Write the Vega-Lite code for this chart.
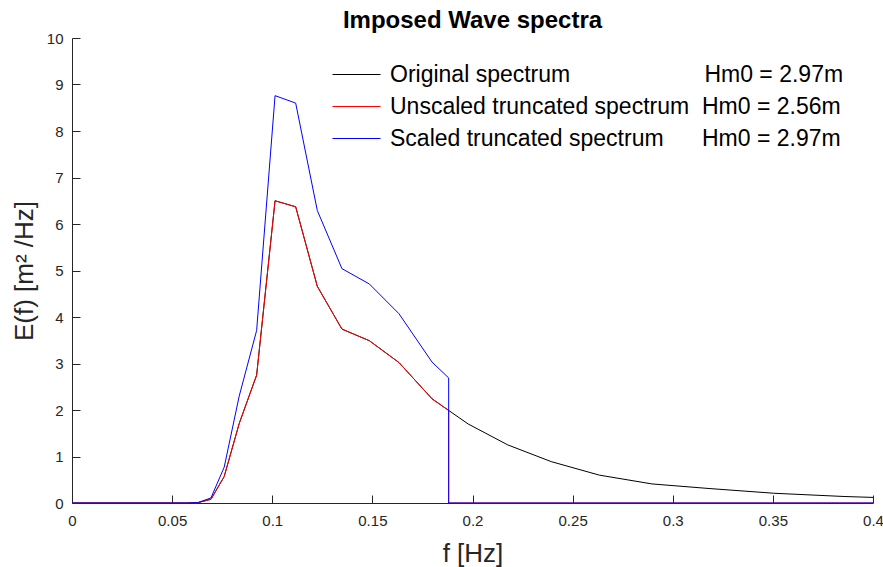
{
  "$schema": "https://vega.github.io/schema/vega-lite/v6.json",
  "width": 801,
  "height": 465,
  "autosize": {"type": "none"},
  "padding": {"left": 72, "top": 38, "right": 10, "bottom": 64},
  "background": "white",
  "title": {"text": "Imposed Wave spectra", "fontSize": 24, "fontWeight": "bold", "font": "Liberation Sans", "color": "#000000", "anchor": "middle", "offset": -2},
  "config": {
    "view": {"stroke": null},
    "font": "Liberation Sans",
    "axis": {"grid": false, "domainColor": "#262626", "tickColor": "#262626", "labelColor": "#262626", "titleColor": "#262626", "labelFont": "Liberation Sans", "titleFont": "Liberation Sans", "labelFontSize": 15, "titleFontSize": 26, "titleFontWeight": "normal", "domainWidth": 1, "tickWidth": 1, "labelFlush": false}
  },
  "data": {"values": [
    {"series": "Original spectrum", "i": 0, "f": 0, "E": 0},
    {"series": "Original spectrum", "i": 1, "f": 0.0573, "E": 0},
    {"series": "Original spectrum", "i": 2, "f": 0.063, "E": 0.01},
    {"series": "Original spectrum", "i": 3, "f": 0.0694, "E": 0.08},
    {"series": "Original spectrum", "i": 4, "f": 0.076, "E": 0.57},
    {"series": "Original spectrum", "i": 5, "f": 0.0835, "E": 1.71},
    {"series": "Original spectrum", "i": 6, "f": 0.0922, "E": 2.75},
    {"series": "Original spectrum", "i": 7, "f": 0.1014, "E": 6.5},
    {"series": "Original spectrum", "i": 8, "f": 0.1117, "E": 6.37},
    {"series": "Original spectrum", "i": 9, "f": 0.1225, "E": 4.66},
    {"series": "Original spectrum", "i": 10, "f": 0.1348, "E": 3.74},
    {"series": "Original spectrum", "i": 11, "f": 0.1485, "E": 3.49},
    {"series": "Original spectrum", "i": 12, "f": 0.1633, "E": 3.02},
    {"series": "Original spectrum", "i": 13, "f": 0.1798, "E": 2.24},
    {"series": "Original spectrum", "i": 14, "f": 0.1978, "E": 1.7},
    {"series": "Original spectrum", "i": 15, "f": 0.2176, "E": 1.25},
    {"series": "Original spectrum", "i": 16, "f": 0.2393, "E": 0.89},
    {"series": "Original spectrum", "i": 17, "f": 0.2633, "E": 0.6},
    {"series": "Original spectrum", "i": 18, "f": 0.2896, "E": 0.41},
    {"series": "Original spectrum", "i": 19, "f": 0.3186, "E": 0.31},
    {"series": "Original spectrum", "i": 20, "f": 0.3504, "E": 0.21},
    {"series": "Original spectrum", "i": 21, "f": 0.3855, "E": 0.14},
    {"series": "Original spectrum", "i": 22, "f": 0.4, "E": 0.12},
    {"series": "Unscaled truncated spectrum", "i": 0, "f": 0, "E": 0},
    {"series": "Unscaled truncated spectrum", "i": 1, "f": 0.0573, "E": 0},
    {"series": "Unscaled truncated spectrum", "i": 2, "f": 0.063, "E": 0.01},
    {"series": "Unscaled truncated spectrum", "i": 3, "f": 0.0694, "E": 0.08},
    {"series": "Unscaled truncated spectrum", "i": 4, "f": 0.076, "E": 0.57},
    {"series": "Unscaled truncated spectrum", "i": 5, "f": 0.0835, "E": 1.71},
    {"series": "Unscaled truncated spectrum", "i": 6, "f": 0.0922, "E": 2.75},
    {"series": "Unscaled truncated spectrum", "i": 7, "f": 0.1014, "E": 6.5},
    {"series": "Unscaled truncated spectrum", "i": 8, "f": 0.1117, "E": 6.37},
    {"series": "Unscaled truncated spectrum", "i": 9, "f": 0.1225, "E": 4.66},
    {"series": "Unscaled truncated spectrum", "i": 10, "f": 0.1348, "E": 3.74},
    {"series": "Unscaled truncated spectrum", "i": 11, "f": 0.1485, "E": 3.49},
    {"series": "Unscaled truncated spectrum", "i": 12, "f": 0.1633, "E": 3.02},
    {"series": "Unscaled truncated spectrum", "i": 13, "f": 0.1798, "E": 2.24},
    {"series": "Unscaled truncated spectrum", "i": 14, "f": 0.1881, "E": 1.99},
    {"series": "Unscaled truncated spectrum", "i": 15, "f": 0.1881, "E": 0},
    {"series": "Unscaled truncated spectrum", "i": 16, "f": 0.4, "E": 0},
    {"series": "Scaled truncated spectrum", "i": 0, "f": 0, "E": 0},
    {"series": "Scaled truncated spectrum", "i": 1, "f": 0.0573, "E": 0},
    {"series": "Scaled truncated spectrum", "i": 2, "f": 0.063, "E": 0.01},
    {"series": "Scaled truncated spectrum", "i": 3, "f": 0.0694, "E": 0.11},
    {"series": "Scaled truncated spectrum", "i": 4, "f": 0.076, "E": 0.77},
    {"series": "Scaled truncated spectrum", "i": 5, "f": 0.0835, "E": 2.3},
    {"series": "Scaled truncated spectrum", "i": 6, "f": 0.0922, "E": 3.71},
    {"series": "Scaled truncated spectrum", "i": 7, "f": 0.1014, "E": 8.76},
    {"series": "Scaled truncated spectrum", "i": 8, "f": 0.1117, "E": 8.6},
    {"series": "Scaled truncated spectrum", "i": 9, "f": 0.1225, "E": 6.29},
    {"series": "Scaled truncated spectrum", "i": 10, "f": 0.1348, "E": 5.04},
    {"series": "Scaled truncated spectrum", "i": 11, "f": 0.1485, "E": 4.71},
    {"series": "Scaled truncated spectrum", "i": 12, "f": 0.1633, "E": 4.07},
    {"series": "Scaled truncated spectrum", "i": 13, "f": 0.1798, "E": 3.03},
    {"series": "Scaled truncated spectrum", "i": 14, "f": 0.1881, "E": 2.69},
    {"series": "Scaled truncated spectrum", "i": 15, "f": 0.1881, "E": 0},
    {"series": "Scaled truncated spectrum", "i": 16, "f": 0.4, "E": 0}
  ]},
  "mark": {"type": "line", "strokeWidth": 1, "clip": true},
  "encoding": {
    "x": {"field": "f", "type": "quantitative", "scale": {"domain": [0, 0.4], "nice": false},
      "axis": {"title": "f [Hz]", "values": [0, 0.05, 0.1, 0.15, 0.2, 0.25, 0.3, 0.35, 0.4], "format": "~g", "tickSize": -8, "labelPadding": 18, "titlePadding": 12}},
    "y": {"field": "E", "type": "quantitative", "scale": {"domain": [0, 10], "nice": false},
      "axis": {"title": "E(f) [m² /Hz]", "values": [0, 1, 2, 3, 4, 5, 6, 7, 8, 9, 10], "format": "d", "tickSize": -8, "labelPadding": 17, "titlePadding": 9}},
    "color": {"field": "series", "type": "nominal",
      "scale": {"domain": ["Original spectrum", "Unscaled truncated spectrum", "Scaled truncated spectrum"], "range": ["#000000", "#ff0000", "#0000ff"]},
      "legend": {"title": null, "orient": "none", "legendX": 273, "legendY": 25, "padding": 0,
        "symbolType": "M-3,0H3", "symbolSize": 256, "symbolStrokeWidth": 1, "labelOffset": 22,
        "labelFontSize": 23, "labelFont": "Liberation Sans", "labelColor": "#000000", "labelLimit": 0, "rowPadding": 8,
        "labelExpr": "datum.label == 'Original spectrum' ? 'Original spectrum\u00a0\u00a0\u00a0\u00a0\u00a0\u00a0\u00a0\u00a0\u00a0\u00a0\u00a0\u00a0\u00a0\u00a0\u00a0\u00a0\u00a0\u00a0\u00a0\u00a0\u00a0Hm0 = 2.97m' : datum.label == 'Unscaled truncated spectrum' ? 'Unscaled truncated spectrum\u00a0\u00a0Hm0 = 2.56m' : 'Scaled truncated spectrum\u00a0\u00a0\u00a0\u00a0\u00a0\u00a0Hm0 = 2.97m'"}},
    "order": {"field": "i", "type": "quantitative"}
  }
}
